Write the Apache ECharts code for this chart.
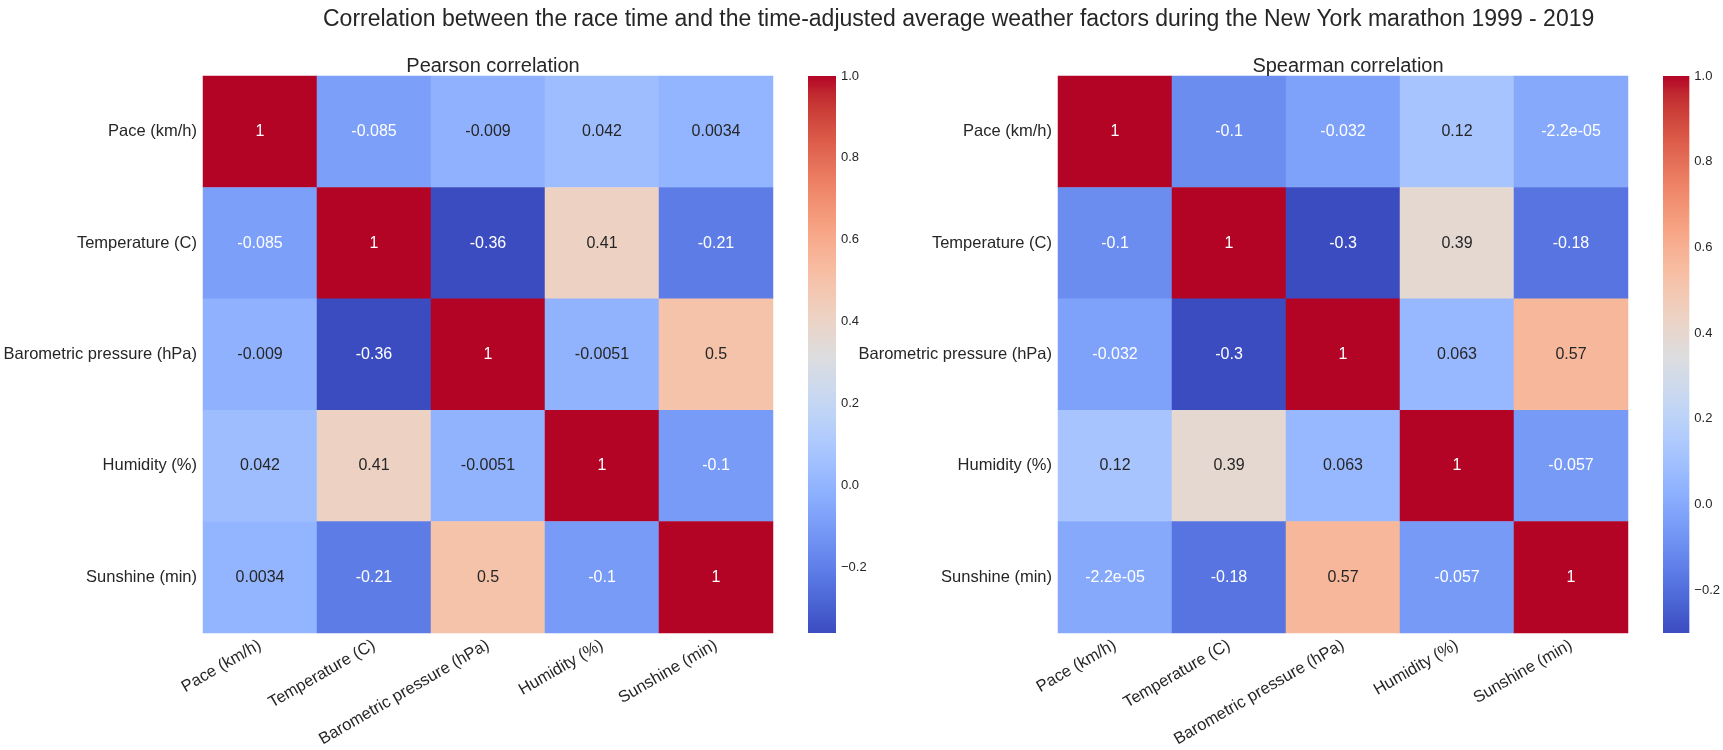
<!DOCTYPE html>
<html>
<head>
<meta charset="utf-8">
<script src="https://cdn.jsdelivr.net/npm/echarts@6/dist/echarts.min.js"></script>
<style>
  html, body { margin: 0; padding: 0; background: #ffffff; }
  #chart { width: 1723px; height: 750px; }
</style>
</head>
<body>
<div id="chart"></div>
<script>
// ---------- data ----------
const categories = ['Pace (km/h)', 'Temperature (C)', 'Barometric pressure (hPa)', 'Humidity (%)', 'Sunshine (min)'];
const pearson = [
  [1, -0.085, -0.009, 0.042, 0.0034],
  [-0.085, 1, -0.36, 0.41, -0.21],
  [-0.009, -0.36, 1, -0.0051, 0.5],
  [0.042, 0.41, -0.0051, 1, -0.1],
  [0.0034, -0.21, 0.5, -0.1, 1]
];
const spearman = [
  [1, -0.1, -0.032, 0.12, -2.2e-5],
  [-0.1, 1, -0.3, 0.39, -0.18],
  [-0.032, -0.3, 1, 0.063, 0.57],
  [0.12, 0.39, 0.063, 1, -0.057],
  [-2.2e-5, -0.18, 0.57, -0.057, 1]
];
const colorbarTicks = [-0.2, 0.0, 0.2, 0.4, 0.6, 0.8, 1.0];
const mainTitle = 'Correlation between the race time and the time-adjusted average weather factors during the New York marathon 1999 - 2019';
const panelTitles = ['Pearson correlation', 'Spearman correlation'];

// ---------- coolwarm colormap (Moreland) ----------
const coolwarm = [
  [59,76,192],[68,90,204],[77,104,215],[87,117,225],[98,130,234],[108,142,241],[119,154,247],[130,165,251],
  [141,176,254],[152,185,255],[163,194,255],[174,201,253],[184,208,249],[194,213,244],[204,217,238],[213,219,230],
  [221,221,221],[229,216,209],[236,211,197],[241,204,185],[245,196,173],[247,187,160],[247,177,148],[247,166,135],
  [244,154,123],[241,141,111],[236,127,99],[229,112,88],[222,96,77],[213,80,66],[203,62,56],[192,40,47],[180,4,38]
];
const cwHex = coolwarm.map(c => '#' + c.map(x => x.toString(16).padStart(2, '0')).join(''));
function cwAt(t) {
  t = Math.max(0, Math.min(1, t));
  const p = t * (coolwarm.length - 1);
  const i = Math.min(Math.floor(p), coolwarm.length - 2);
  const f = p - i;
  return coolwarm[i].map((c, k) => c + (coolwarm[i + 1][k] - c) * f);
}
function luminance(rgb) {
  const lin = rgb.map(c => { c = c / 255; return c <= 0.03928 ? c / 12.92 : Math.pow((c + 0.055) / 1.055, 2.4); });
  return 0.2126 * lin[0] + 0.7152 * lin[1] + 0.0722 * lin[2];
}
function fmt2g(v) {
  if (v === 0) return '0';
  const e = Math.floor(Math.log10(Math.abs(v)));
  if (e < -4 || e >= 2) {
    return v.toExponential(1).replace(/e([+-])(\d+)$/, (m, s, d) => 'e' + s + d.padStart(2, '0'));
  }
  return String(parseFloat(v.toPrecision(2)));
}
function buildCells(mat, mn, mx) {
  const out = [];
  mat.forEach((row, i) => row.forEach((v, j) => {
    const lum = luminance(cwAt((v - mn) / (mx - mn)));
    out.push({ value: [j, i, v], label: { color: lum > 0.408 ? '#262626' : '#ffffff' } });
  }));
  return out;
}
const mats = [pearson, spearman];
const mins = mats.map(m => Math.min(...m.flat()));
const maxs = mats.map(m => Math.max(...m.flat()));

const textColor = '#262626';
const fontFamily = '"Liberation Sans", Arial, sans-serif';
const heatLeft = [203, 1058];
const cbLeft = [808, 1663];
const gridTop = 76, gridH = 557, hmW = 570, cbW = 28;

const grids = [], xAxes = [], yAxes = [], series = [], visualMaps = [], titles = [];
titles.push({ text: mainTitle, left: 318, top: 3, textStyle: { fontSize: 23, fontWeight: 'normal', color: textColor, fontFamily } });
[0, 1].forEach(k => {
  titles.push({ text: panelTitles[k], left: heatLeft[k] + hmW / 2, top: 51, textAlign: 'center',
    textStyle: { fontSize: 20, fontWeight: 'normal', color: textColor, fontFamily } });
  // heatmap grid
  grids.push({ left: heatLeft[k], top: gridTop, width: hmW, height: gridH });
  xAxes.push({ type: 'category', gridIndex: 2 * k, data: categories, axisLine: { show: false }, axisTick: { show: false },
    axisLabel: { rotate: 30, fontSize: 16.5, color: textColor, fontFamily, margin: 11, interval: 0 }, splitLine: { show: false } });
  yAxes.push({ type: 'category', gridIndex: 2 * k, data: categories, inverse: true, axisLine: { show: false }, axisTick: { show: false },
    axisLabel: { fontSize: 16.5, color: textColor, fontFamily, margin: 6, interval: 0 }, splitLine: { show: false } });
  series.push({ type: 'heatmap', xAxisIndex: 2 * k, yAxisIndex: 2 * k, data: buildCells(mats[k], mins[k], maxs[k]),
    label: { show: true, fontSize: 16, fontFamily, formatter: p => fmt2g(p.value[2]) },
    itemStyle: { borderWidth: 0 }, emphasis: { disabled: true } });
  visualMaps.push({ type: 'continuous', show: false, seriesIndex: series.length - 1, dimension: 2,
    min: mins[k], max: maxs[k], inRange: { color: cwHex } });
  // colorbar grid
  grids.push({ left: cbLeft[k], top: gridTop, width: cbW, height: gridH });
  xAxes.push({ type: 'value', gridIndex: 2 * k + 1, min: 0, max: 1, show: false });
  yAxes.push({ type: 'value', gridIndex: 2 * k + 1, min: mins[k], max: maxs[k], position: 'right',
    axisLine: { show: false }, axisTick: { show: false }, splitLine: { show: false },
    axisLabel: { customValues: colorbarTicks, fontSize: 13, color: textColor, fontFamily, margin: 5,
      formatter: v => (v < 0 ? '\u2212' : '') + Math.abs(v).toFixed(1) } });
  series.push({ type: 'custom', xAxisIndex: 2 * k + 1, yAxisIndex: 2 * k + 1, silent: true,
    data: [[0, 1, mins[k], maxs[k]]],
    renderItem: (params, api) => {
      const tl = api.coord([api.value(0), api.value(3)]);
      const br = api.coord([api.value(1), api.value(2)]);
      const stops = cwHex.map((c, i) => ({ offset: 1 - i / (cwHex.length - 1), color: c }));
      return { type: 'rect', shape: { x: tl[0], y: tl[1], width: br[0] - tl[0], height: br[1] - tl[1] },
        style: { fill: new echarts.graphic.LinearGradient(0, 0, 0, 1, stops) } };
    } });
});

const chart = echarts.init(document.getElementById('chart'), null, { renderer: 'canvas' });
chart.setOption({
  backgroundColor: '#ffffff',
  animation: false,
  title: titles,
  grid: grids,
  xAxis: xAxes,
  yAxis: yAxes,
  visualMap: visualMaps,
  series: series
});
</script>
</body>
</html>
